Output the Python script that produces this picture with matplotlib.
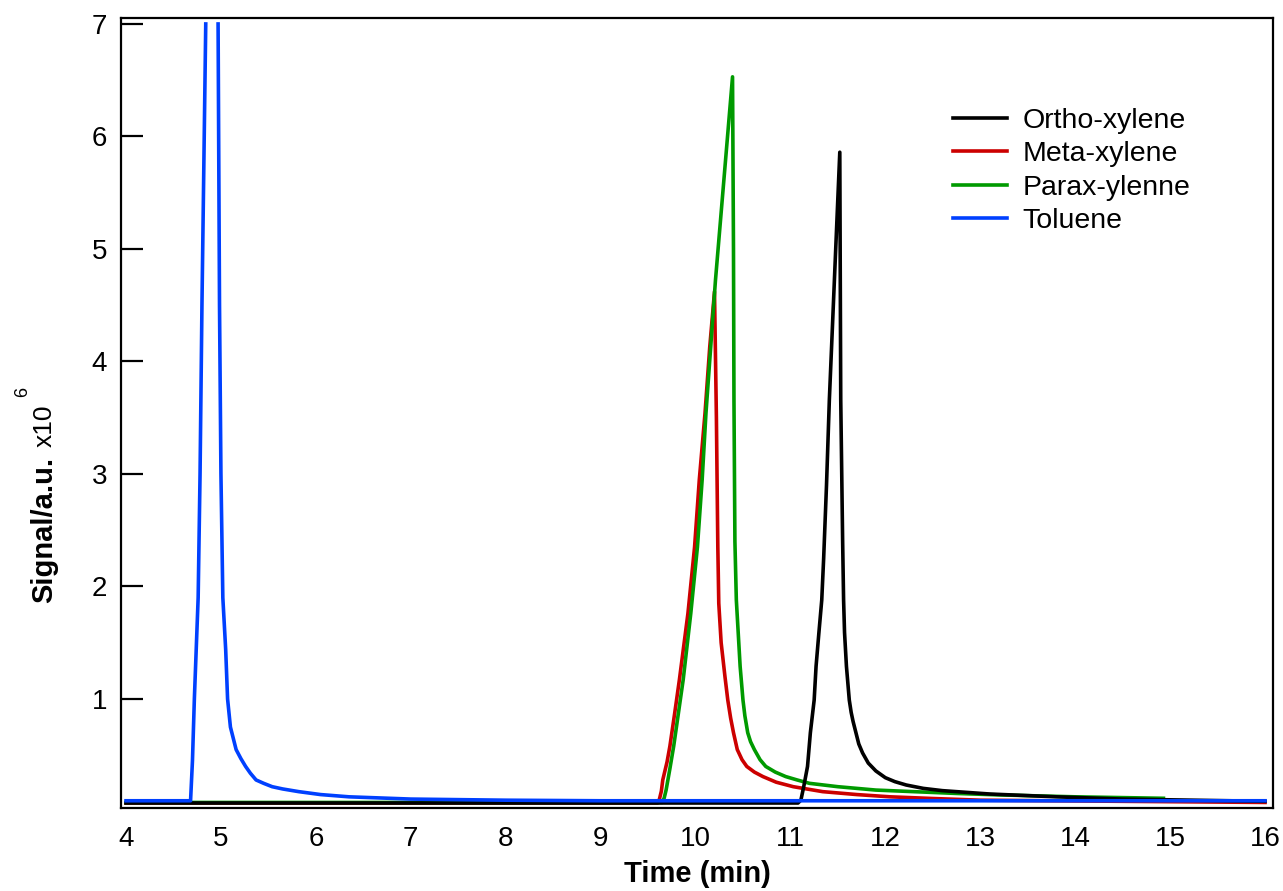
import numpy as np
import matplotlib
matplotlib.use("Agg")
import matplotlib.pyplot as plt

plt.rcParams["font.family"] = ["Liberation Sans", "DejaVu Sans"]

nan = np.nan

# chromatogram traces (time in min, signal x10^6)
ortho_t = [4.00, 11.08, 11.11, 11.14, 11.18, 11.21, 11.25, 11.27, 11.30, 11.33, 11.35,
           11.38, 11.41, 11.52, 11.53, 11.55, 11.56, 11.57, 11.59, 11.62, 11.64, 11.66,
           11.69, 11.72, 11.76, 11.82, 11.90, 12.00, 12.10, 12.22, 12.40, 12.60, 13.10,
           13.80, 14.50, 16.00]
ortho_s = [0.075, 0.075, 0.10, 0.22, 0.40, 0.70, 0.99, 1.29, 1.59, 1.88, 2.25,
           2.90, 3.66, 5.86, 3.66, 2.40, 1.88, 1.59, 1.29, 0.99, 0.88, 0.80,
           0.70, 0.60, 0.52, 0.43, 0.36, 0.30, 0.265, 0.235, 0.205, 0.185, 0.155,
           0.13, 0.11, 0.09]

meta_t = [4.00, 9.60, 9.62, 9.64, 9.655, 9.70, 9.73, 9.78, 9.83, 9.92, 9.99, 10.04,
          10.10, 10.15, 10.20, 10.22, 10.235, 10.245, 10.27, 10.31, 10.34, 10.37,
          10.40, 10.44, 10.49, 10.54, 10.62, 10.71, 10.85, 11.03, 11.34, 11.70,
          12.05, 12.50, 13.00, 16.00]
meta_s = [0.075, 0.075, 0.11, 0.18, 0.28, 0.44, 0.58, 0.87, 1.17, 1.76, 2.35, 2.95,
          3.54, 4.13, 4.62, 3.50, 2.35, 1.85, 1.50, 1.20, 0.99, 0.83,
          0.70, 0.55, 0.46, 0.40, 0.35, 0.31, 0.26, 0.22, 0.176, 0.15,
          0.13, 0.115, 0.10, 0.08]

para_t = [4.00, 9.65, 9.67, 9.69, 9.73, 9.77, 9.87, 9.95, 10.02, 10.07, 10.11, 10.16,
          10.21, 10.39, 10.40, 10.405, 10.415, 10.43, 10.47, 10.50, 10.52, 10.55,
          10.58, 10.62, 10.68, 10.74, 10.84, 10.95, 11.07, 11.20, 11.50, 11.90,
          12.75, 13.20, 14.00, 14.93]
para_s = [0.08, 0.08, 0.12, 0.19, 0.38, 0.58, 1.17, 1.76, 2.35, 2.95, 3.54, 4.13,
          4.72, 6.53, 5.00, 3.66, 2.40, 1.88, 1.29, 0.99, 0.85, 0.70,
          0.62, 0.55, 0.46, 0.40, 0.35, 0.31, 0.28, 0.25, 0.22, 0.19,
          0.16, 0.147, 0.13, 0.117]

# toluene saturates above 7 -> gap at the top
tol_t = [4.00, 4.68, 4.70, 4.72, 4.76, 4.78, 4.80, 4.84, 4.90, 4.97, 4.985, 5.00,
         5.02, 5.05, 5.07, 5.10, 5.13, 5.16, 5.21, 5.26, 5.31, 5.37, 5.45, 5.54,
         5.65, 5.82, 6.05, 6.35, 7.00, 8.00, 9.00, 12.00, 16.00]
tol_s = [0.095, 0.095, 0.45, 1.00, 1.90, 3.00, 4.50, 7.00, nan, 7.00, 4.50, 3.00,
         1.90, 1.44, 1.00, 0.75, 0.65, 0.55, 0.47, 0.40, 0.34, 0.28, 0.25, 0.22,
         0.20, 0.176, 0.15, 0.13, 0.11, 0.10, 0.095, 0.095, 0.095]

labels = ["Ortho-xylene", "Meta-xylene", "Parax-ylenne", "Toluene"]
colors = ["#000000", "#cc0000", "#009a00", "#0040ff"]

W, H = 1283, 891
fig = plt.figure(figsize=(W / 100, H / 100), dpi=100)
ax = fig.add_axes([0.0943, 0.0932, 0.8979, 0.8866])

lw = 2.6
h_meta, = ax.plot(meta_t, meta_s, color=colors[1], lw=lw)
h_para, = ax.plot(para_t, para_s, color=colors[2], lw=lw)
h_ortho, = ax.plot(ortho_t, ortho_s, color=colors[0], lw=lw)
h_tol, = ax.plot(tol_t, tol_s, color=colors[3], lw=lw)

ax.set_xlim(3.947, 16.084)
ax.set_ylim(0.031, 7.053)
ax.set_xticks(range(4, 17))
ax.set_yticks(range(1, 8))

ax.tick_params(axis="x", length=0, pad=13, labelsize=20)
ax.tick_params(axis="y", direction="in", length=16, width=1.6, pad=10, labelsize=20)
for sp in ax.spines.values():
    sp.set_linewidth(1.6)

ax.set_xlabel("Time (min)", fontsize=21, fontweight="bold", labelpad=6)

# y label built from pieces: bold name, regular x10 and a raised 6
fig.text(52 / W, 1 - 603 / H, "Signal/a.u.", fontsize=21, fontweight="bold",
         rotation=90, rotation_mode="anchor", ha="left", va="baseline")
fig.text(52 / W, 1 - 447 / H, "x10", fontsize=19,
         rotation=90, rotation_mode="anchor", ha="left", va="baseline")
fig.text(27 / W, 1 - 397 / H, "6", fontsize=13,
         rotation=90, rotation_mode="anchor", ha="left", va="baseline")

ax.legend([h_ortho, h_meta, h_para, h_tol], labels, loc="upper left",
          bbox_to_anchor=(0.722, 0.886), frameon=False, fontsize=20.5,
          handlelength=1.9, handletextpad=0.55, labelspacing=0.26,
          borderpad=0, borderaxespad=0)

fig.savefig("out.png", dpi=100, facecolor="white")
